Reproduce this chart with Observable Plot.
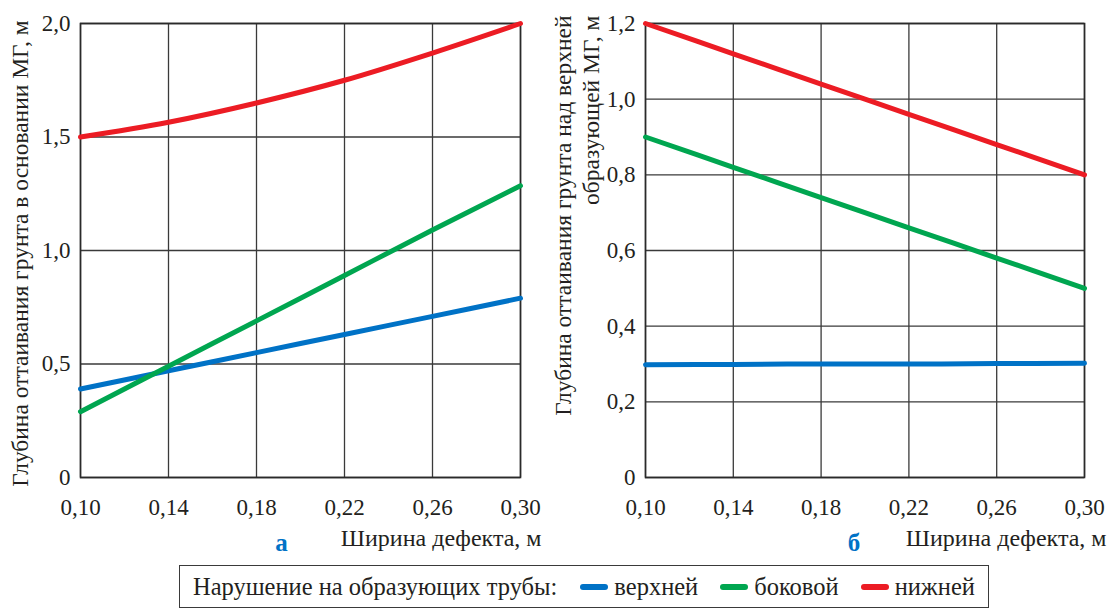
<!DOCTYPE html>
<html>
<head>
<meta charset="utf-8">
<script src="https://cdn.jsdelivr.net/npm/d3@7"></script>
<script src="https://cdn.jsdelivr.net/npm/@observablehq/plot@0.6"></script>
<style>
  html, body { margin: 0; padding: 0; background: #fff; }
  #wrap { position: relative; width: 1111px; height: 611px; overflow: hidden; font-family: "Liberation Serif", "Times New Roman", "DejaVu Serif", serif; color: #231f20; }
  #panelA { position: absolute; left: 0; top: 0; }
  #panelB { position: absolute; left: 545px; top: 0; }
  #legend { position: absolute; left: 179px; top: 565px; width: 810px; height: 43px; box-sizing: border-box;
            border: 1.5px solid #3a3a3a; display: flex; align-items: center; font-size: 24.5px; padding-left: 13px; white-space: nowrap; }
  #legend .sw { display: inline-block; width: 28px; height: 6px; border-radius: 3px; margin: 0 6px 0 0; }
  #legend .item { display: flex; align-items: center; margin-left: 22px; }
</style>
</head>
<body>
<div id="wrap">
  <div id="panelA"></div>
  <div id="panelB"></div>
  <div id="legend"></div>
</div>
<script>
// ---- data ----
const widths = [0.10, 0.14, 0.18, 0.22, 0.26, 0.30];

// panel а: depth of thawing under the pipe base
const aTop    = [0.39, 0.47, 0.55, 0.63, 0.71, 0.79];
const aSide   = [0.29, 0.49, 0.69, 0.89, 1.09, 1.285];
const aBottom = [1.50, 1.565, 1.65, 1.75, 1.87, 2.00];

// panel б: depth of thawing above the top generatrix
const bTop    = [0.298, 0.299, 0.300, 0.300, 0.301, 0.302];
const bSide   = [0.90, 0.82, 0.74, 0.66, 0.58, 0.50];
const bBottom = [1.20, 1.12, 1.04, 0.96, 0.88, 0.80];

const seriesNames  = ["верхней", "боковой", "нижней"];
const seriesColors = ["#0072c6", "#00a650", "#ec1c24"];

const xTicks  = [0.10, 0.14, 0.18, 0.22, 0.26, 0.30];
const xTickLabels = ["0,10", "0,14", "0,18", "0,22", "0,26", "0,30"];
const yTicksA = [0, 0.5, 1.0, 1.5, 2.0];
const yTickLabelsA = ["0", "0,5", "1,0", "1,5", "2,0"];
const yTicksB = [0, 0.2, 0.4, 0.6, 0.8, 1.0, 1.2];
const yTickLabelsB = ["0", "0,2", "0,4", "0,6", "0,8", "1,0", "1,2"];

const xLabel = "Ширина дефекта, м";
const yLabelA = "Глубина оттаивания грунта в основании МГ, м";
const yLabelB1 = "Глубина оттаивания грунта над верхней";
const yLabelB2 = "образующей МГ, м";
const legendTitle = "Нарушение на образующих трубы:";

function rows(values) {
  return widths.map((w, i) => ({x: w, y: values[i]}));
}
function fmt(ticks, labels) {
  return d => labels[ticks.findIndex(t => Math.abs(t - d) < 1e-9)];
}

const ink = "#231f20";

function panel({width, marginLeft, marginRight, yDomain, yTicks, yTickLabels, series, letter, letterDx, xLabelDx, yLabelMarks}) {
  return Plot.plot({
    width, height: 560,
    marginLeft, marginRight, marginTop: 23, marginBottom: 83,
    style: {fontFamily: "'Liberation Serif', 'Times New Roman', serif", fontSize: "23px", color: ink, background: "transparent", overflow: "visible"},
    x: {domain: [0.10, 0.30]},
    y: {domain: yDomain},
    marks: [
      Plot.gridX(xTicks, {stroke: "#3a3a3a", strokeOpacity: 1, strokeWidth: 1.3}),
      Plot.gridY(yTicks, {stroke: "#3a3a3a", strokeOpacity: 1, strokeWidth: 1.3}),
      Plot.frame({stroke: "#2a2a2a", strokeWidth: 1.6}),
      Plot.axisX({ticks: xTicks, tickFormat: fmt(xTicks, xTickLabels), tickSize: 0, tickPadding: 21, fontSize: 23, label: null}),
      Plot.axisY({ticks: yTicks, tickFormat: fmt(yTicks, yTickLabels), tickSize: 0, tickPadding: 10, fontSize: 23, label: null}),
      ...series.map((vals, i) => Plot.line(rows(vals), {x: "x", y: "y", stroke: seriesColors[i], strokeWidth: 5, curve: "catmull-rom"})),
      Plot.text([xLabel], {frameAnchor: "bottom-right", textAnchor: "end", lineAnchor: "bottom", dx: xLabelDx, dy: 68, fontSize: 24, fill: ink}),
      Plot.text([letter], {frameAnchor: "bottom", lineAnchor: "bottom", dx: letterDx, dy: 73, fontSize: 25, fontWeight: "bold", fill: "#0072c6"}),
      ...yLabelMarks
    ]
  });
}

const plotA = panel({
  width: 545, marginLeft: 80, marginRight: 25,
  yDomain: [0, 2], yTicks: yTicksA, yTickLabels: yTickLabelsA,
  series: [aTop, aSide, aBottom], letter: "а", letterDx: -19, xLabelDx: 21,
  yLabelMarks: [Plot.text([yLabelA], {frameAnchor: "left", rotate: -90, textAnchor: "middle", dx: -60, dy: 3, fontSize: 23.5, fill: ink})]
});
const plotB = panel({
  width: 566, marginLeft: 100, marginRight: 27,
  yDomain: [0, 1.2], yTicks: yTicksB, yTickLabels: yTickLabelsB,
  series: [bTop, bSide, bBottom], letter: "б", letterDx: -11, xLabelDx: 22,
  yLabelMarks: [
    Plot.text([yLabelB1], {frameAnchor: "top-left", rotate: -90, textAnchor: "end", dx: -91, dy: -8, fontSize: 23.5, fill: ink}),
    Plot.text([yLabelB2], {frameAnchor: "top-left", rotate: -90, textAnchor: "end", dx: -63, dy: -8, fontSize: 23.5, fill: ink})
  ]
});
document.getElementById("panelA").appendChild(plotA);
document.getElementById("panelB").appendChild(plotB);

// legend
const lg = document.getElementById("legend");
const t = document.createElement("span");
t.textContent = legendTitle;
t.style.marginRight = "1px";
lg.appendChild(t);
seriesNames.forEach((name, i) => {
  const it = document.createElement("span");
  it.className = "item";
  const sw = document.createElement("span");
  sw.className = "sw";
  sw.style.background = seriesColors[i];
  const lab = document.createElement("span");
  lab.textContent = name;
  it.appendChild(sw); it.appendChild(lab);
  lg.appendChild(it);
});
</script>
</body>
</html>
